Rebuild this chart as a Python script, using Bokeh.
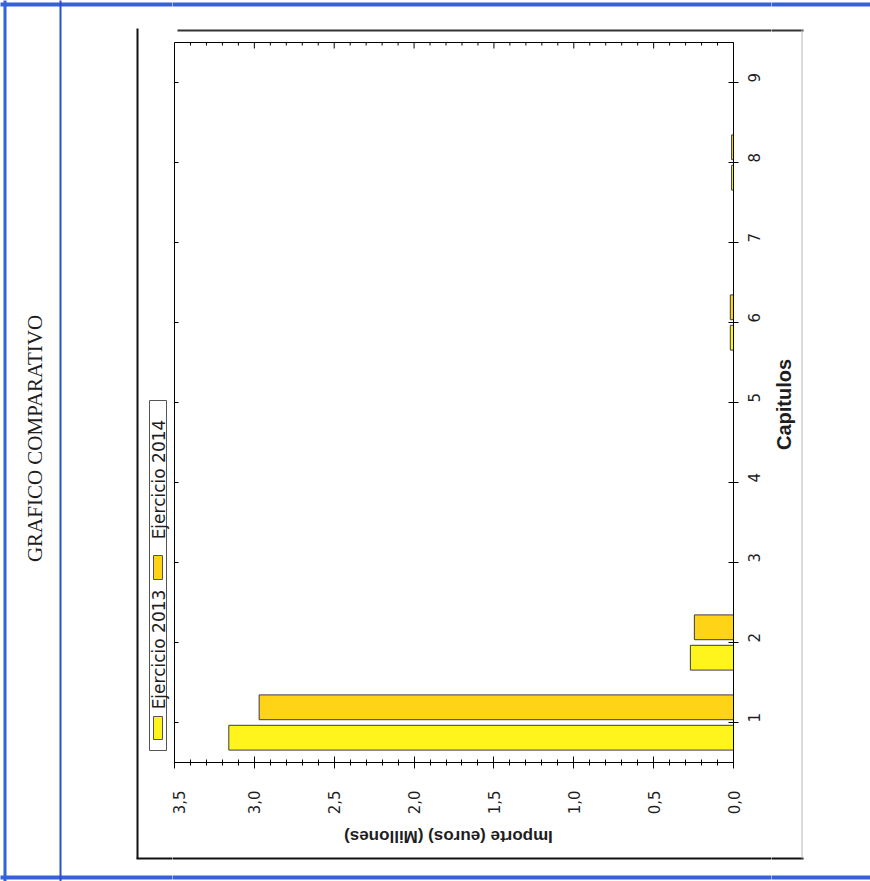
import math
from bokeh.plotting import figure
from bokeh.layouts import row, column
from bokeh.models import (Range1d, FixedTicker, CustomJSTickFormatter,
                          ColumnDataSource, Label)
from bokeh.transform import dodge
from bokeh.embed import file_html
from bokeh.resources import INLINE

# ---------------- data ----------------
capitulos = [1, 2, 3, 4, 5, 6, 7, 8, 9]
ejercicio_2013 = [3.16, 0.27, 0.0, 0.0, 0.0, 0.02, 0.0, 0.012, 0.0]
ejercicio_2014 = [2.97, 0.245, 0.0, 0.0, 0.0, 0.02, 0.0, 0.012, 0.0]
series_names = ["Ejercicio 2013", "Ejercicio 2014"]
value_ticks = [0.0, 0.5, 1.0, 1.5, 2.0, 2.5, 3.0, 3.5]
value_minor_ticks = [0.1, 0.2, 0.3, 0.4, 0.6, 0.7, 0.8, 0.9, 1.1, 1.2, 1.3, 1.4,
                     1.6, 1.7, 1.8, 1.9, 2.1, 2.2, 2.3, 2.4, 2.6, 2.7, 2.8, 2.9,
                     3.1, 3.2, 3.3, 3.4]
page_title = "GRAFICO COMPARATIVO"
value_axis_title = "Importe (euros) (Millones)"
category_axis_title = "Capitulos"

# ---------------- style ----------------
C2013 = "#FFF41C"
C2014 = "#FFD316"
BAR_LINE = "#3c3c46"
TXT = "#1e1e1e"
FONT = "Liberation Sans"
TICK_FONT = "DejaVu Sans"
BLUE = "#3561d9"

# page layout (pixels)
W, H = 870, 881
ML, MR, MT, MB = 172, 771, 40, 818   # main chart figure box


def no_align(f):
    try:
        f.frame_align = False
    except Exception:
        pass
    return f


# ---------------- main chart ----------------
x_rng = Range1d(3.5, 0)
y_rng = Range1d(0.5, 9.5)
p = figure(width=MR - ML, height=MB - MT, x_range=x_rng, y_range=y_rng,
           y_axis_location="right", x_axis_location="below", title=None,
           toolbar_location=None, output_backend="svg",
           min_border_left=2, min_border_right=38,
           min_border_top=2, min_border_bottom=56)
no_align(p)
p.xgrid.visible = False
p.ygrid.visible = False
p.outline_line_color = "black"
p.outline_line_width = 1
p.background_fill_color = "white"
p.border_fill_color = "white"

src = ColumnDataSource(dict(cap=capitulos, e13=ejercicio_2013, e14=ejercicio_2014))
p.hbar(y=dodge("cap", -0.19), left=0, right="e13", height=0.31, source=src,
       fill_color=C2013, line_color=BAR_LINE, line_width=1)
p.hbar(y=dodge("cap", 0.19), left=0, right="e14", height=0.31, source=src,
       fill_color=C2014, line_color=BAR_LINE, line_width=1)

# mirrored inward ticks on top and left edges of the frame
p.ray(x=value_ticks, y=y_rng.end, length=6, length_units="screen",
      angle=-math.pi / 2, line_color="black", line_width=1)
p.ray(x=value_minor_ticks, y=y_rng.end, length=3, length_units="screen",
      angle=-math.pi / 2, line_color="black", line_width=1)
p.ray(x=x_rng.start, y=capitulos, length=4, length_units="screen",
      angle=0, line_color="black", line_width=1)

# bottom (value) axis
xa = p.xaxis[0]
xa.ticker = FixedTicker(ticks=value_ticks, minor_ticks=value_minor_ticks)
xa.formatter = CustomJSTickFormatter(code="return tick.toFixed(1).replace('.', ',');")
xa.major_label_orientation = math.pi / 2
xa.major_label_text_font = TICK_FONT
xa.major_label_text_font_size = "15px"
xa.major_label_text_color = TXT
xa.major_tick_in = 6
xa.major_tick_out = 6
xa.minor_tick_in = 3
xa.minor_tick_out = 3
xa.major_label_standoff = 22
xa.axis_line_color = "black"

# right (category) axis
ya = p.yaxis[0]
ya.ticker = FixedTicker(ticks=capitulos, minor_ticks=[])
ya.major_label_orientation = math.pi / 2
ya.major_label_text_font = TICK_FONT
ya.major_label_text_font_size = "15px"
ya.major_label_text_color = TXT
ya.major_tick_in = 5
ya.major_tick_out = 5
ya.minor_tick_in = 0
ya.minor_tick_out = 0
ya.major_label_standoff = 15
ya.axis_line_color = "black"

# ---------------- page decorations (page pixel coordinates) ----------------
# rectangles: (x1, y1, x2, y2, fill, line)
deco_rects = [
    (-2, 2, W + 2, 6, BLUE, None),     # blue page border top
    (3, -2, 6, H + 2, BLUE, None),     # blue page border left
    (-2, 875, W + 2, 879, BLUE, None), # blue page border bottom
    (59, -2, 61, H + 2, "#2c4fc4", None),   # blue column separator
    (136, 28, 138, 858, "#111111", None),   # chart box left
    (177, 29, 803, 31, "#333333", None),    # chart box top
    (136, 857, 803, 859, "#111111", None),  # chart box bottom
    (801, 29, 802, 858, "#b5b5b5", None),   # chart box right
    (149, 400, 166, 750, None, "#555555"),  # legend box
    (153, 716, 162, 739, C2013, "#555555"), # legend swatch 2013
    (153, 555, 162, 579, C2014, "#555555"), # legend swatch 2014
]
# texts: (text, x, y, angle, size, font, style)
deco_texts = [
    (page_title, 34, 438, math.pi / 2, "21px", "Liberation Serif", "normal"),
    (series_names[0], 158, 649, math.pi / 2, "17px", TICK_FONT, "normal"),
    (series_names[1], 158, 479, math.pi / 2, "17px", TICK_FONT, "normal"),
    (value_axis_title, 448, 836, math.pi, "17px", FONT, "bold"),
    (category_axis_title, 783, 404, math.pi / 2, "20px", FONT, "bold"),
]


def deco(x0, x1, y0, y1):
    f = figure(width=x1 - x0, height=y1 - y0, title=None,
               x_range=Range1d(x0, x1), y_range=Range1d(y1, y0),
               x_axis_location=None, y_axis_location=None,
               toolbar_location=None, output_backend="svg",
               min_border=0, outline_line_color=None)
    no_align(f)
    f.grid.visible = False
    f.background_fill_color = "white"
    f.border_fill_color = "white"
    for (a, b, c, d, fill, line) in deco_rects:
        if x1 < a or x0 > c or y1 < b or y0 > d:
            continue
        f.quad(left=max(a, x0 - 2), right=min(c, x1 + 2),
               top=max(b, y0 - 2), bottom=min(d, y1 + 2),
               fill_color=fill if fill else "white",
               fill_alpha=1.0 if fill else 0.0,
               line_color=line if line else None, line_width=1)
    for (t, x, y, ang, size, font, style) in deco_texts:
        if not (x0 <= x <= x1 and y0 <= y <= y1):
            continue
        f.add_layout(Label(x=x, y=y, text=t, angle=ang, text_align="center",
                           text_baseline="middle", text_font=font,
                           text_font_size=size, text_font_style=style,
                           text_color=TXT))
    return f


left_full = deco(0, ML, 0, H)
right_full = deco(MR, W, 0, H)
top_mid = deco(ML, MR, 0, MT)
bottom_mid = deco(ML, MR, MB, H)

layout = row(left_full,
             column(top_mid, p, bottom_mid, spacing=0),
             right_full, spacing=0)

open("out.html", "w").write(file_html(layout, INLINE))
